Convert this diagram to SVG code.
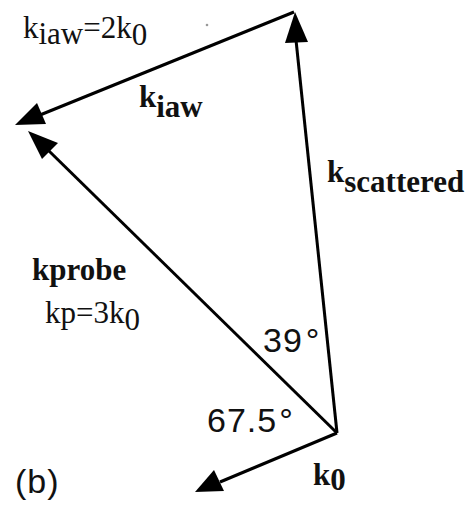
<svg xmlns="http://www.w3.org/2000/svg" width="468" height="505" viewBox="0 0 468 505">
<style>
.ln{stroke:#000;stroke-width:3;fill:none}
.serif{font-family:"Liberation Serif","Times New Roman",serif;font-size:31px;fill:#111}
.b{font-weight:bold}
.sans{font-family:"Liberation Sans",Arial,sans-serif;font-size:34px;fill:#111;letter-spacing:1px}
</style>
<rect width="468" height="505" fill="#fff"/>
<g id="connectors">
<line id="k-scattered" class="ln" x1="337" y1="433" x2="296" y2="40"/>
<polygon points="295,12 285,43 308,42" fill="#000"/>
<line id="k-iaw" class="ln" x1="294" y1="12" x2="40" y2="115"/>
<polygon points="15,125 37,103 46,124" fill="#000"/>
<line id="k-probe" class="ln" x1="337" y1="433" x2="48" y2="150"/>
<polygon points="28,131 58,143 42,159" fill="#000"/>
<line id="k-0" class="ln" x1="337" y1="433" x2="220" y2="482"/>
<polygon points="195,492 214,470 224,491" fill="#000"/>
</g>
<g id="label-kiaw-eq">
<text class="serif" x="23" y="38">k<tspan dy="6">iaw</tspan><tspan dy="-6">=2k</tspan><tspan dy="7">0</tspan></text>
</g>
<g id="label-kiaw">
<text class="serif b" x="139" y="107">k<tspan dy="10">iaw</tspan></text>
</g>
<g id="label-kscattered">
<text class="serif b" x="327" y="182">k<tspan dy="10">scattered</tspan></text>
</g>
<g id="label-kprobe">
<text class="serif b" x="32" y="280">kprobe</text>
</g>
<g id="label-kp">
<text class="serif" x="45" y="323">kp=3k<tspan dy="7">0</tspan></text>
</g>
<g id="label-39">
<text class="sans" x="263" y="352">39<tspan dx="3">°</tspan></text>
</g>
<g id="label-675">
<text class="sans" x="207" y="432">67.5<tspan dx="2">°</tspan></text>
</g>
<g id="label-b">
<text class="sans" x="15" y="493">(b)</text>
</g>
<g id="label-k0">
<text class="serif b" x="313" y="485">k<tspan dy="5">0</tspan></text>
</g>
<circle cx="207" cy="25" r="1.3" fill="#999"/>
</svg>
